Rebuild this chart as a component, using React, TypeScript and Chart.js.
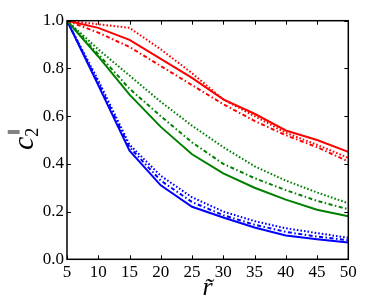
import React, { useEffect, useRef } from "react";
import { Chart, registerables } from "chart.js";
Chart.register(...registerables);

const rValues = [5, 10, 15, 20, 25, 30, 35, 40, 45, 50];

const redSolid = [1.0, 0.97, 0.92, 0.84, 0.76, 0.67, 0.61, 0.54, 0.5, 0.45];
const redDashDot = [1.0, 0.95, 0.89, 0.81, 0.73, 0.65, 0.58, 0.52, 0.47, 0.41];
const redDotted = [1.0, 0.985, 0.97, 0.88, 0.78, 0.67, 0.6, 0.53, 0.48, 0.425];

const greenSolid = [1.0, 0.85, 0.69, 0.555, 0.44, 0.36, 0.3, 0.25, 0.208, 0.18];
const greenDashDot = [1.0, 0.86, 0.715, 0.6, 0.49, 0.4, 0.34, 0.29, 0.245, 0.21];
const greenDotted = [1.0, 0.88, 0.77, 0.66, 0.56, 0.47, 0.39, 0.33, 0.28, 0.235];

const blueSolid = [1.0, 0.73, 0.455, 0.31, 0.22, 0.175, 0.133, 0.1, 0.084, 0.07];
const blueDashDot = [1.0, 0.74, 0.47, 0.33, 0.24, 0.185, 0.145, 0.115, 0.095, 0.08];
const blueDotted = [1.0, 0.75, 0.48, 0.35, 0.26, 0.2, 0.16, 0.13, 0.11, 0.09];

const xTicks = [5, 10, 15, 20, 25, 30, 35, 40, 45, 50];
const yTicks = [0.0, 0.2, 0.4, 0.6, 0.8, 1.0];

const RED = "#ff0000";
const GREEN = "#008000";
const BLUE = "#0000ff";
const SOLID: number[] = [];
const DASHDOT = [4, 2.5, 1.5, 2.5];
const DOTTED = [1.6, 2];

const FONT = "Liberation Serif";

function series(values: number[], color: string, dash: number[], label: string) {
  return {
    label,
    data: rValues.map((x, i) => ({ x, y: values[i] })),
    borderColor: color,
    backgroundColor: color,
    borderWidth: 2,
    borderDash: dash,
    pointRadius: 0,
    tension: 0,
    fill: false,
  };
}

const framePlugin = {
  id: "frameAndLabels",
  afterDraw(chart: any) {
    const { ctx, chartArea } = chart;
    const { left, right, top, bottom } = chartArea;
    const xs = chart.scales.x;
    const ys = chart.scales.y;
    ctx.save();
    ctx.strokeStyle = "#000";
    ctx.lineWidth = 1;
    const tl = 4;
    ctx.beginPath();
    for (const v of xTicks) {
      const px = Math.round(xs.getPixelForValue(v)) + 0.5;
      ctx.moveTo(px, bottom);
      ctx.lineTo(px, bottom - tl);
      ctx.moveTo(px, top);
      ctx.lineTo(px, top + tl);
    }
    for (const v of yTicks) {
      const py = Math.round(ys.getPixelForValue(v)) + 0.5;
      ctx.moveTo(left, py);
      ctx.lineTo(left + tl, py);
      ctx.moveTo(right, py);
      ctx.lineTo(right - tl, py);
    }
    ctx.stroke();
    ctx.lineWidth = 1.5;
    ctx.strokeRect(left, top, right - left, bottom - top);

    ctx.fillStyle = "#000";
    ctx.textBaseline = "alphabetic";

    // x-axis title
    ctx.font = `italic 26px "${FONT}"`;
    ctx.textAlign = "center";
    ctx.fillText("r\u0303", (left + right) / 2, 295);

    // y-axis title: c_2^∥ rotated
    ctx.save();
    ctx.translate(33, 150);
    ctx.rotate(-Math.PI / 2);
    ctx.textAlign = "left";
    ctx.font = `italic 30px "${FONT}"`;
    ctx.fillText("c", 0, 0);
    const cw = ctx.measureText("c").width;
    ctx.font = `18px "${FONT}"`;
    ctx.fillText("2", cw, 5);
    ctx.font = `12px "${FONT}"`;
    ctx.fillText("\u2225", cw + 2, -16);
    ctx.restore();
    ctx.restore();
  },
};

export default function App() {
  const ref = useRef<HTMLCanvasElement | null>(null);
  useEffect(() => {
    document.body.style.margin = "0";
    const canvas = ref.current;
    if (!canvas) return;
    const chart = new Chart(canvas, {
      type: "line",
      data: {
        datasets: [
          series(redSolid, RED, SOLID, "red solid"),
          series(redDashDot, RED, DASHDOT, "red dash-dot"),
          series(redDotted, RED, DOTTED, "red dotted"),
          series(greenSolid, GREEN, SOLID, "green solid"),
          series(greenDashDot, GREEN, DASHDOT, "green dash-dot"),
          series(greenDotted, GREEN, DOTTED, "green dotted"),
          series(blueSolid, BLUE, SOLID, "blue solid"),
          series(blueDashDot, BLUE, DASHDOT, "blue dash-dot"),
          series(blueDotted, BLUE, DOTTED, "blue dotted"),
        ] as any,
      },
      options: {
        responsive: false,
        animation: false,
        devicePixelRatio: 1,
        layout: { padding: { left: 0, top: 20.7, right: 22.7, bottom: 0 } },
        plugins: { legend: { display: false }, tooltip: { enabled: false } },
        scales: {
          x: {
            type: "linear",
            min: 5,
            max: 50,
            grid: { display: false, drawTicks: false },
            border: { display: false },
            afterBuildTicks: (s: any) => {
              s.ticks = xTicks.map((v) => ({ value: v }));
            },
            afterFit: (s: any) => {
              s.height = 42.7;
            },
            ticks: {
              autoSkip: false,
              maxRotation: 0,
              padding: 3,
              color: "#000",
              font: { family: FONT, size: 17 },
              callback: (v: any) => String(v),
            },
          },
          y: {
            type: "linear",
            min: 0,
            max: 1,
            grid: { display: false, drawTicks: false },
            border: { display: false },
            afterBuildTicks: (s: any) => {
              s.ticks = yTicks.map((v) => ({ value: v }));
            },
            afterFit: (s: any) => {
              s.width = 67;
            },
            ticks: {
              autoSkip: false,
              padding: 3,
              color: "#000",
              font: { family: FONT, size: 17 },
              callback: (v: any) => Number(v).toFixed(1),
            },
          },
        },
      },
      plugins: [framePlugin],
    });
    return () => chart.destroy();
  }, []);
  return (
    <div style={{ width: 371, height: 302, position: "relative" }}>
      <canvas ref={ref} width={371} height={302} style={{ width: 371, height: 302, display: "block" }} />
    </div>
  );
}
